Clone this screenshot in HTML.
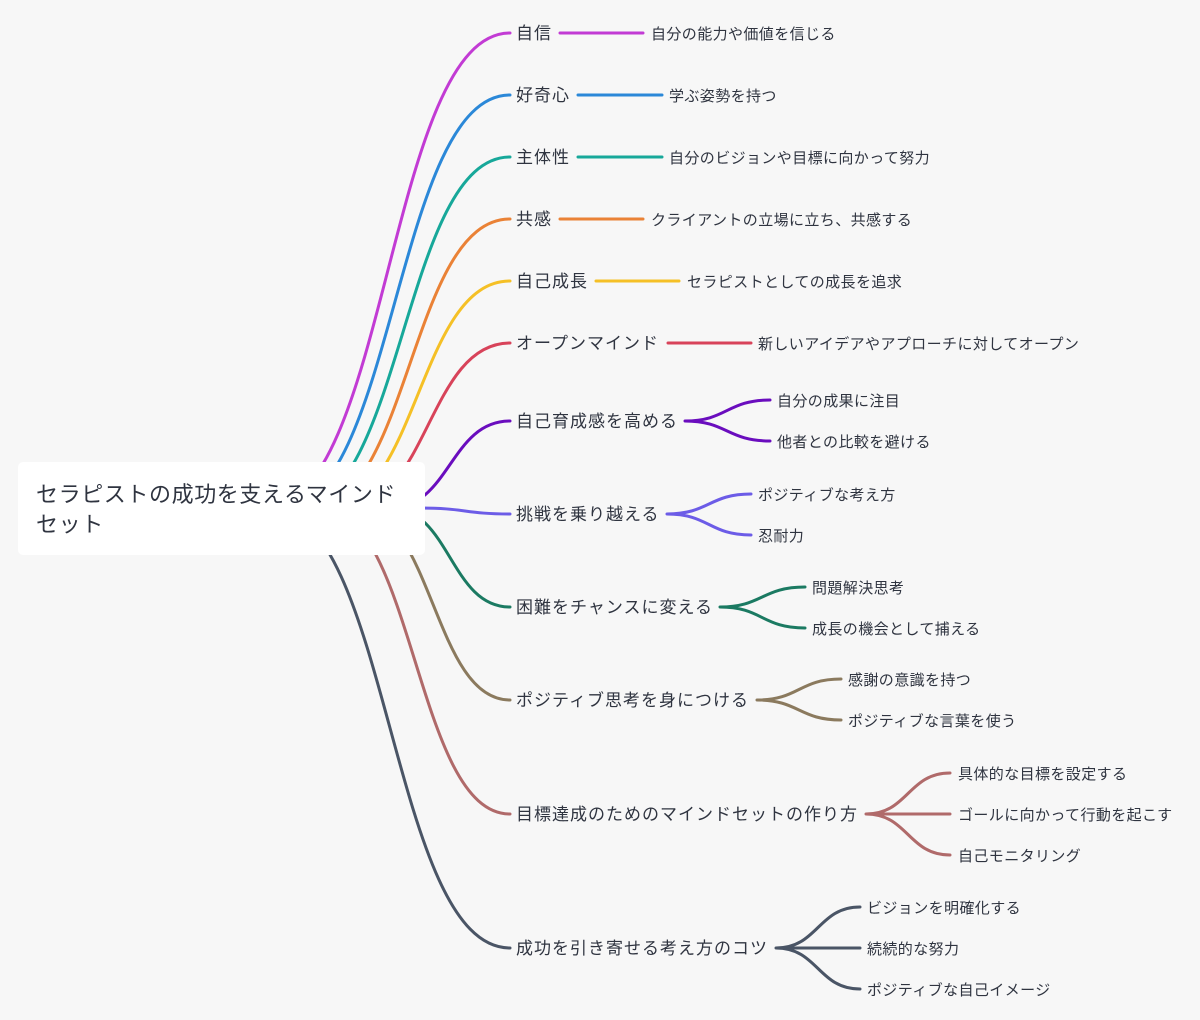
<!DOCTYPE html>
<html><head><meta charset="utf-8"><style>
html,body{margin:0;padding:0;background:#f7f7f7;}
svg{display:block;}
text{font-family:"Liberation Sans","Noto Sans CJK JP",sans-serif;fill:#2f3440;}
.m{font-size:17px;letter-spacing:1px;}
.s{font-size:15px;letter-spacing:0.4px;}
path{fill:none;stroke-width:3;stroke-linecap:round;}
</style></head><body>
<svg width="1200" height="1020" viewBox="0 0 1200 1020" xmlns="http://www.w3.org/2000/svg">
<path stroke="#c23bd4" d="M265,508 C388,508 388,33 510,33"/>
<path stroke="#2b88d8" d="M280,508 C395,508 395,95 510,95"/>
<path stroke="#17a89a" d="M295,508 C403,508 403,157 510,157"/>
<path stroke="#ea8236" d="M310,508 C410,508 410,219 510,219"/>
<path stroke="#f5c026" d="M325,508 C418,508 418,281 510,281"/>
<path stroke="#d8435a" d="M345,508 C428,508 428,343 510,343"/>
<path stroke="#6a0dbe" d="M390,508 C450,508 450,421 510,421"/>
<path stroke="#6c5ce7" d="M420,508 C465,508 465,514 510,514"/>
<path stroke="#1b7a62" d="M390,508 C450,508 450,607 510,607"/>
<path stroke="#8b7a5e" d="M355,508 C433,508 433,700 510,700"/>
<path stroke="#b06a6a" d="M320,508 C415,508 415,814 510,814"/>
<path stroke="#4a5566" d="M270,508 C390,508 390,948 510,948"/>
<rect x="18" y="462" width="407" height="93" rx="5" fill="#ffffff"/>
<text x="36" y="502" style="font-size:22px;letter-spacing:0.6px">セラピストの成功を支えるマインド</text>
<text x="36" y="532" style="font-size:22px;letter-spacing:0.6px">セット</text>
<path stroke="#c23bd4" d="M560,33 H643"/>
<path stroke="#2b88d8" d="M578,95 H662"/>
<path stroke="#17a89a" d="M578,157 H662"/>
<path stroke="#ea8236" d="M560,219 H643"/>
<path stroke="#f5c026" d="M596,281 H679"/>
<path stroke="#d8435a" d="M668,343 H751"/>
<path stroke="#6a0dbe" d="M685,421 C727,421 727,400 770,400 M685,421 C727,421 727,441 770,441"/>
<path stroke="#6c5ce7" d="M667,514 C709,514 709,494 751,494 M667,514 C709,514 709,535 751,535"/>
<path stroke="#1b7a62" d="M720,607 C762,607 762,587 805,587 M720,607 C762,607 762,628 805,628"/>
<path stroke="#8b7a5e" d="M757,700 C799,700 799,679 841,679 M757,700 C799,700 799,720 841,720"/>
<path stroke="#b06a6a" d="M866,814 C908,814 908,773 950,773 M866,814 H950 M866,814 C908,814 908,855 950,855"/>
<path stroke="#4a5566" d="M776,948 C818,948 818,907 860,907 M776,948 H860 M776,948 C818,948 818,989 860,989"/>
<g class="m">
<text x="516" y="39">自信</text>
<text x="516" y="101">好奇心</text>
<text x="516" y="163">主体性</text>
<text x="516" y="225">共感</text>
<text x="516" y="287">自己成長</text>
<text x="516" y="349">オープンマインド</text>
<text x="516" y="427">自己育成感を高める</text>
<text x="516" y="520">挑戦を乗り越える</text>
<text x="516" y="613">困難をチャンスに変える</text>
<text x="516" y="706">ポジティブ思考を身につける</text>
<text x="516" y="820">目標達成のためのマインドセットの作り方</text>
<text x="516" y="954">成功を引き寄せる考え方のコツ</text>
</g>
<g class="s">
<text x="651" y="39">自分の能力や価値を信じる</text>
<text x="669" y="101">学ぶ姿勢を持つ</text>
<text x="669" y="163">自分のビジョンや目標に向かって努力</text>
<text x="651" y="225">クライアントの立場に立ち、共感する</text>
<text x="687" y="287">セラピストとしての成長を追求</text>
<text x="758" y="349">新しいアイデアやアプローチに対してオープン</text>
<text x="777" y="406">自分の成果に注目</text>
<text x="777" y="447">他者との比較を避ける</text>
<text x="758" y="500">ポジティブな考え方</text>
<text x="758" y="541">忍耐力</text>
<text x="812" y="593">問題解決思考</text>
<text x="812" y="634">成長の機会として捕える</text>
<text x="848" y="685">感謝の意識を持つ</text>
<text x="848" y="726">ポジティブな言葉を使う</text>
<text x="958" y="779">具体的な目標を設定する</text>
<text x="958" y="820">ゴールに向かって行動を起こす</text>
<text x="958" y="861">自己モニタリング</text>
<text x="867" y="913">ビジョンを明確化する</text>
<text x="867" y="954">続続的な努力</text>
<text x="867" y="995">ポジティブな自己イメージ</text>
</g>
</svg>
</body></html>
